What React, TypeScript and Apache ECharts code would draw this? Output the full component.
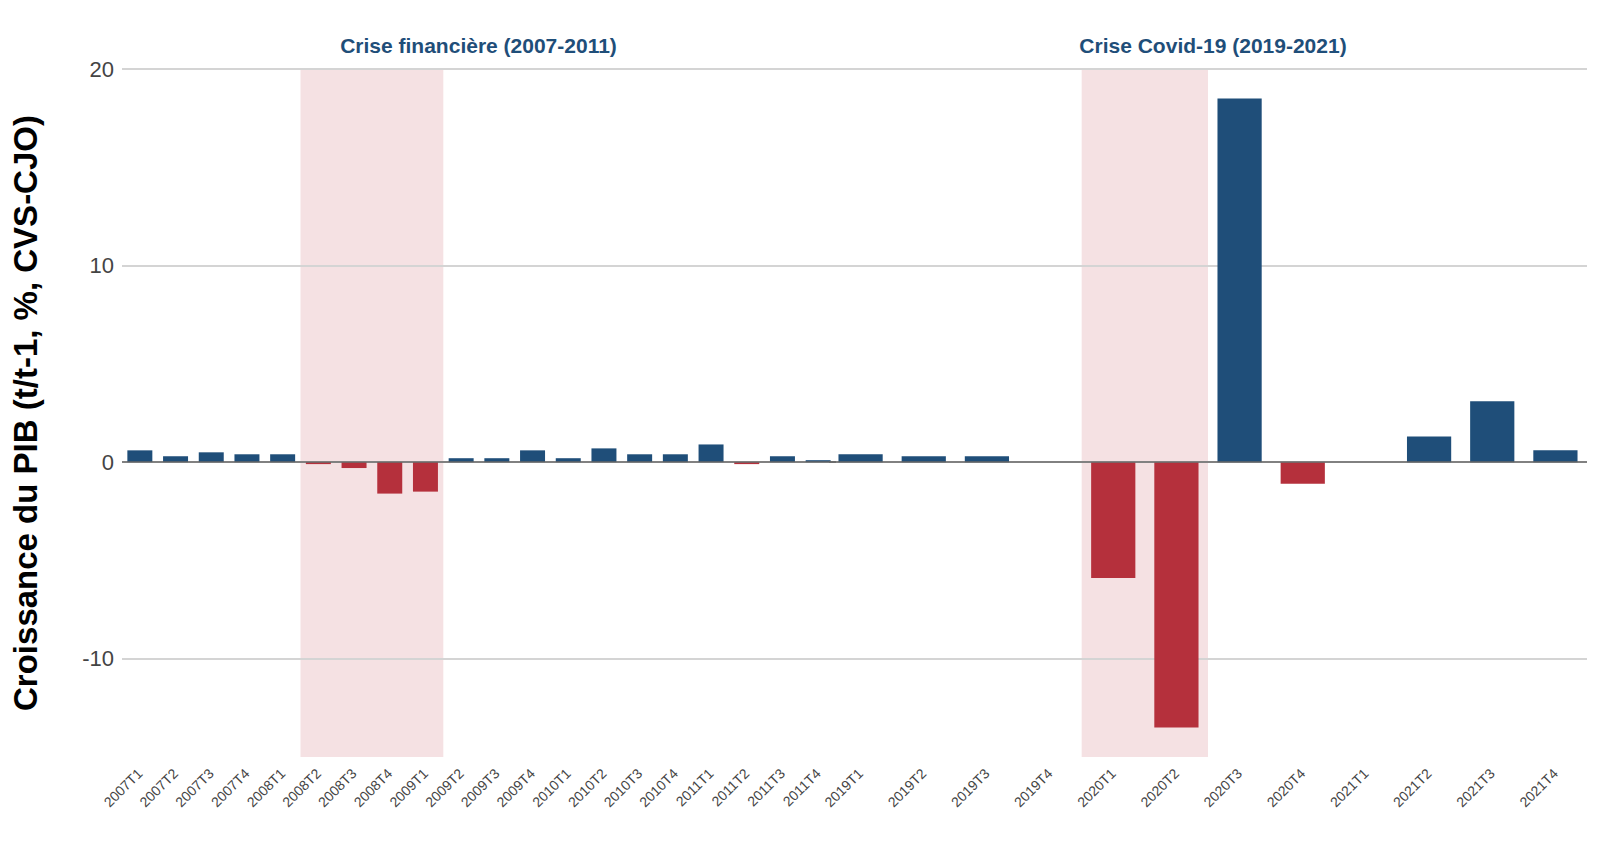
import React, { useEffect, useRef } from "react";
import * as echarts from "echarts";

const catsFin = ["2007T1","2007T2","2007T3","2007T4","2008T1","2008T2","2008T3","2008T4","2009T1","2009T2","2009T3","2009T4","2010T1","2010T2","2010T3","2010T4","2011T1","2011T2","2011T3","2011T4"];
const valsFin = [0.6,0.3,0.5,0.4,0.4,-0.1,-0.3,-1.6,-1.5,0.2,0.2,0.6,0.2,0.7,0.4,0.4,0.9,-0.1,0.3,0.1];
const catsCov = ["2019T1","2019T2","2019T3","2019T4","2020T1","2020T2","2020T3","2020T4","2021T1","2021T2","2021T3","2021T4"];
const valsCov = [0.4,0.3,0.3,0,-5.9,-13.5,18.5,-1.1,0,1.3,3.1,0.6];
const titles = ["Crise financière (2007-2011)", "Crise Covid-19 (2019-2021)"];
const shades = [["2008T2","2009T1"],["2020T1","2020T2"]];
const yTicks = [-10, 0, 10, 20];

const BLUE = "#1f4e79";
const RED = "#b5303c";

const App = () => {
  const ref = useRef<HTMLDivElement>(null);
  useEffect(() => {
    const chart = echarts.init(ref.current, null, { renderer: "svg" });
    const grids = [
      { left: 103, width: 725, top: 61, bottom: 79 },
      { left: 821, width: 758, top: 61, bottom: 79 },
    ];
    const cats = [catsFin, catsCov];
    const vals = [valsFin, valsCov];
    chart.setOption({
      animation: false,
      textStyle: { fontFamily: "Liberation Sans" },
      title: titles.map((t, i) => ({
        text: t,
        left: grids[i].left + grids[i].width / 2,
        textAlign: "center",
        top: 22,
        textStyle: { color: BLUE, fontSize: 21, fontWeight: "bold" },
      })),
      grid: grids,
      xAxis: cats.map((c, i) => ({
        type: "category",
        data: c,
        gridIndex: i,
        axisLine: { show: false },
        axisTick: { show: false },
        axisLabel: { rotate: 45, fontSize: 14, color: "#444", margin: 14, interval: 0 },
      })),
      yAxis: [0, 1].map((i) => ({
        type: "value",
        gridIndex: i,
        min: -15,
        max: 20,
        name: i === 0 ? "Croissance du PIB (t/t-1, %, CVS-CJO)" : "",
        nameLocation: "middle",
        nameGap: 80,
        nameTextStyle: { fontSize: 33, fontWeight: "bold", color: "#000" },
        axisLine: { show: false },
        axisTick: { show: false, customValues: yTicks },
        axisLabel: { show: i === 0, fontSize: 22, color: "#444", customValues: yTicks },
        splitLine: { lineStyle: { color: "#d4d4d4", width: 2 } },
      })),
      series: vals.map((v, i) => ({
        type: "bar",
        xAxisIndex: i,
        yAxisIndex: i,
        barWidth: "70%",
        data: v.map((d) => ({ value: d, itemStyle: { color: d < 0 ? RED : BLUE } })),
        markArea: {
          silent: true,
          z: -1,
          itemStyle: { color: "rgba(190,70,80,0.16)" },
          data: [[{ xAxis: shades[i][0] }, { xAxis: shades[i][1] }]],
        },
        markLine: {
          silent: true,
          symbol: "none",
          label: { show: false },
          lineStyle: { color: "#666", type: "solid", width: 1.5 },
          data: [{ yAxis: 0 }],
        },
      })),
    });
    return () => chart.dispose();
  }, []);
  return <div ref={ref} style={{ width: 1596, height: 828 }} />;
};

export default App;
